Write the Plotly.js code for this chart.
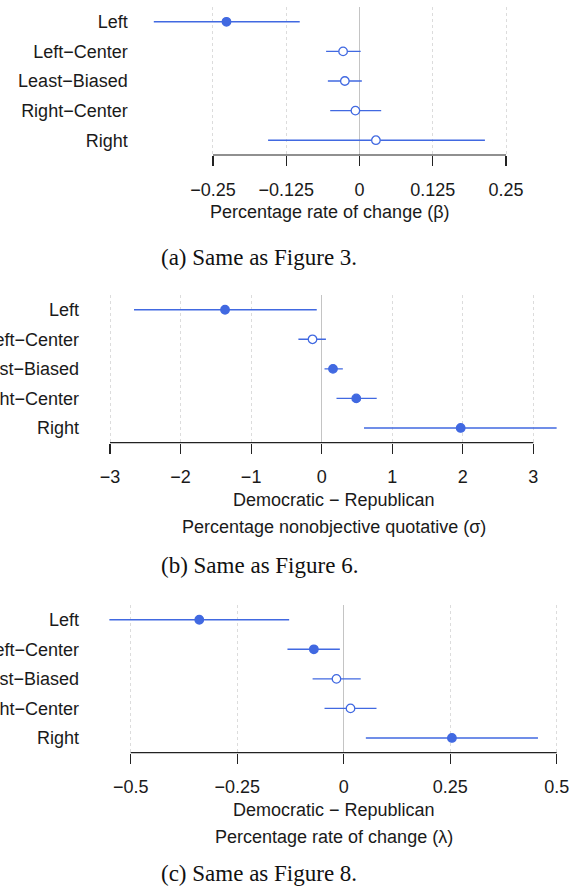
<!DOCTYPE html>
<html>
<head>
<meta charset="utf-8">
<script src="https://cdn.plot.ly/plotly-3.0.1.min.js"></script>
<style>html,body{margin:0;padding:0;background:#fff;}#chart{width:580px;height:888px;}</style>
</head>
<body>
<div id="chart"></div>
<script>
// ---- data ----
const categories = ['Left', 'Left\u2212Center', 'Least\u2212Biased', 'Right\u2212Center', 'Right'];

// (a) beta
const aEst = [-0.227, -0.028, -0.025, -0.007, 0.028];
const aLo  = [-0.351, -0.057, -0.054, -0.050, -0.156];
const aHi  = [-0.102, 0.002, 0.004, 0.037, 0.214];
const aSig = [1, 0, 0, 0, 0];
const aTicks = [-0.25, -0.125, 0, 0.125, 0.25];
const aTickText = ['\u22120.25', '\u22120.125', '0', '0.125', '0.25'];

// (b) sigma
const bEst = [-1.37, -0.13, 0.16, 0.49, 1.97];
const bLo  = [-2.66, -0.33, 0.04, 0.21, 0.60];
const bHi  = [-0.07, 0.06, 0.30, 0.78, 3.33];
const bSig = [1, 0, 1, 1, 1];
const bTicks = [-3, -2, -1, 0, 1, 2, 3];
const bTickText = ['\u22123', '\u22122', '\u22121', '0', '1', '2', '3'];

// (c) lambda
const cEst = [-0.339, -0.070, -0.017, 0.016, 0.254];
const cLo  = [-0.550, -0.132, -0.073, -0.045, 0.052];
const cHi  = [-0.128, -0.009, 0.040, 0.077, 0.456];
const cSig = [1, 1, 0, 0, 1];
const cTicks = [-0.5, -0.25, 0, 0.25, 0.5];
const cTickText = ['\u22120.5', '\u22120.25', '0', '0.25', '0.5'];

const xTitles = [
  ['Percentage rate of change (\u03b2)'],
  ['Democratic \u2212 Republican', 'Percentage nonobjective quotative (\u03c3)'],
  ['Democratic \u2212 Republican', 'Percentage rate of change (\u03bb)']
];
const captions = ['(a) Same as Figure 3.', '(b) Same as Figure 6.', '(c) Same as Figure 8.'];

// ---- layout geometry (pixels) ----
const W = 580, H = 888;
const BLUE = '#4169E1';
const SANS = 'Liberation Sans, Arial, Helvetica, sans-serif';
const SERIF = 'Liberation Serif, Times New Roman, serif';
const px = v => v / W;
const py = v => 1 - v / H;

const panels = [
  {est: aEst, lo: aLo, hi: aHi, sig: aSig, ticks: aTicks, tt: aTickText,
   xpx: [148.7, 511], ypx: [7, 155], range: [-0.3597, 0.2585],
   titleX: 330, titleY: [212], capX: 259, capY: 257},
  {est: bEst, lo: bLo, hi: bHi, sig: bSig, ticks: bTicks, tt: bTickText,
   xpx: [100, 568], ypx: [295, 442.7], range: [-3.142, 3.491],
   titleX: 334, titleY: [500, 527], capX: 259, capY: 565},
  {est: cEst, lo: cLo, hi: cHi, sig: cSig, ticks: cTicks, tt: cTickText,
   xpx: [100, 568], ypx: [605, 752.7], range: [-0.572, 0.5265],
   titleX: 334, titleY: [810, 837], capX: 259, capY: 873}
];

const data = [];
const layout = {
  width: W, height: H,
  margin: {l: 0, r: 0, t: 0, b: 0},
  paper_bgcolor: '#fff', plot_bgcolor: '#fff',
  showlegend: false,
  font: {family: SANS, size: 18, color: '#1a1a1a'},
  shapes: [], annotations: []
};

panels.forEach((p, i) => {
  const n = i === 0 ? '' : String(i + 1);
  const xa = 'x' + n, ya = 'y' + n;
  data.push({
    type: 'scatter', mode: 'markers',
    x: p.est, y: categories,
    xaxis: xa, yaxis: ya,
    error_x: {
      type: 'data', symmetric: false,
      array: p.hi.map((h, k) => h - p.est[k]),
      arrayminus: p.lo.map((l, k) => p.est[k] - l),
      width: 0, thickness: 1.4, color: BLUE
    },
    marker: {
      symbol: 'circle', size: 8.5,
      color: p.sig.map(s => s ? BLUE : '#ffffff'),
      line: {width: 1.3, color: BLUE}
    },
    hoverinfo: 'skip'
  });
  layout['xaxis' + n] = {
    domain: [px(p.xpx[0]), px(p.xpx[1])],
    anchor: ya,
    range: p.range,
    tickmode: 'array', tickvals: p.ticks, ticktext: p.tt,
    ticks: 'outside', ticklen: 10, tickwidth: 1.2, tickcolor: '#222',
    ticklabelstandoff: 8,
    tickfont: {size: 18, color: '#1a1a1a', family: SANS},
    showline: false,
    showgrid: true, griddash: '3px,3px', gridcolor: '#dcdcdc', gridwidth: 1,
    zeroline: true, zerolinecolor: '#c4c4c4', zerolinewidth: 1.6,
    fixedrange: true
  };
  layout['yaxis' + n] = {
    domain: [py(p.ypx[1]), py(p.ypx[0])],
    anchor: xa,
    type: 'category', categoryorder: 'array', categoryarray: categories,
    range: [4.5, -0.5],
    showgrid: false, zeroline: false, showline: false, ticks: '',
    ticklabelstandoff: 20,
    tickfont: {size: 18, color: '#1a1a1a', family: SANS},
    fixedrange: true
  };
  // axis line between first and last tick
  layout.shapes.push({
    type: 'line', xref: xa, yref: ya + ' domain',
    x0: p.ticks[0], x1: p.ticks[p.ticks.length - 1], y0: 0, y1: 0,
    line: {color: '#222', width: 1.2}
  });
  xTitles[i].forEach((t, k) => {
    layout.annotations.push({
      text: t, xref: 'paper', yref: 'paper',
      x: px(p.titleX), y: py(p.titleY[k]),
      xanchor: 'center', yanchor: 'middle', showarrow: false,
      font: {size: 18, color: '#1a1a1a', family: SANS}
    });
  });
  layout.annotations.push({
    text: captions[i], xref: 'paper', yref: 'paper',
    x: px(p.capX), y: py(p.capY),
    xanchor: 'center', yanchor: 'middle', showarrow: false,
    font: {size: 23, color: '#111', family: SERIF}
  });
});

Plotly.newPlot('chart', data, layout, {staticPlot: true, displayModeBar: false});
</script>
</body>
</html>
